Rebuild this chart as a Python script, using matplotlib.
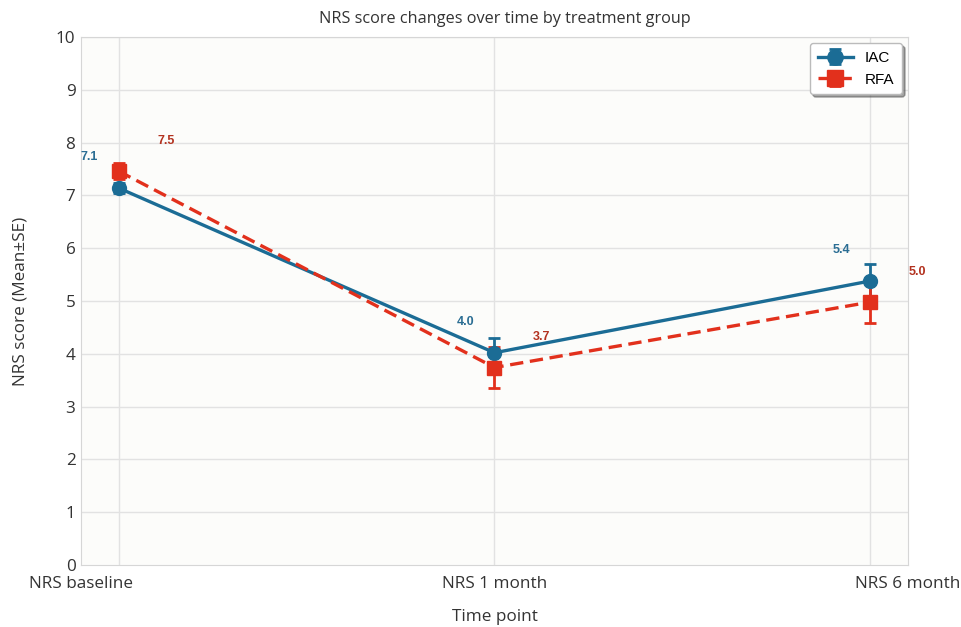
import matplotlib.pyplot as plt

# dados
pontos = ["NRS baseline", "NRS 1 month", "NRS 6 month"]
iac_media = [7.14, 4.02, 5.38]
iac_se = [0.10, 0.28, 0.32]
rfa_media = [7.46, 3.74, 4.98]
rfa_se = [0.15, 0.38, 0.40]

AZUL = "#1b6c95"
VERMELHO = "#e2301c"

plt.rcParams['font.family'] = ['Open Sans', 'DejaVu Sans']

fig = plt.figure(figsize=(9.62, 6.27), dpi=100)
ax = fig.add_axes([81 / 962, 1 - 565 / 627, 827 / 962, 528 / 627])
ax.set_facecolor("#fcfcfa")

x = list(range(len(pontos)))

ax.errorbar(x, iac_media, yerr=iac_se, color=AZUL, marker="o", markersize=10,
            linewidth=2.4, capsize=4.5, capthick=2, elinewidth=2, label="IAC", zorder=3)
ax.errorbar(x, rfa_media, yerr=rfa_se, color=VERMELHO, marker="s", markersize=10,
            linewidth=2.4, linestyle="--", dashes=(4, 2), capsize=4.5, capthick=2,
            elinewidth=2, label="RFA", zorder=3)

# rótulos dos valores
for xi, v in zip(x, iac_media):
    ax.annotate(f"{v:.1f}", (xi, v), xytext=(-21, 22), textcoords="offset points",
                ha="center", va="center", fontsize=9, fontweight="bold",
                color="#2a6d93", family="Liberation Sans")
for xi, v in zip(x, rfa_media):
    ax.annotate(f"{v:.1f}", (xi, v), xytext=(34, 22), textcoords="offset points",
                ha="center", va="center", fontsize=9, fontweight="bold",
                color="#b3321f", family="Liberation Sans")

ax.set_xlim(-0.1, 2.1)
ax.set_ylim(0, 10)
ax.set_xticks([-0.1, 1, 2.1])
ax.set_xticklabels(pontos)
ax.set_yticks(range(0, 11))
ax.tick_params(length=0, labelsize=12.3, colors="#333333", pad=4)
ax.tick_params(axis="x", pad=8)

# grade
for xi in x:
    ax.axvline(xi, color="#e2e2e2", linewidth=1, zorder=0)
for yi in range(1, 11):
    ax.axhline(yi, color="#e2e2e2", linewidth=1, zorder=0)

for s in ax.spines.values():
    s.set_color("#d6d6d6")

ax.set_title("NRS score changes over time by treatment group", fontsize=11.7,
             color="#333333", pad=10, x=0.513)
ax.set_xlabel("Time point", fontsize=12.3, color="#333333", labelpad=12)
ax.set_ylabel("NRS score (Mean±SE)", fontsize=12.3, color="#333333", labelpad=20)

leg = ax.legend(loc="upper right", bbox_to_anchor=(0.993, 0.988), borderaxespad=0,
                shadow=True, fancybox=True, framealpha=1, edgecolor="#bbbbbb",
                handlelength=2.3, markerscale=1.1, borderpad=0.5,
                prop={"family": "Liberation Sans", "size": 11})

fig.savefig("out.png", dpi=100)
